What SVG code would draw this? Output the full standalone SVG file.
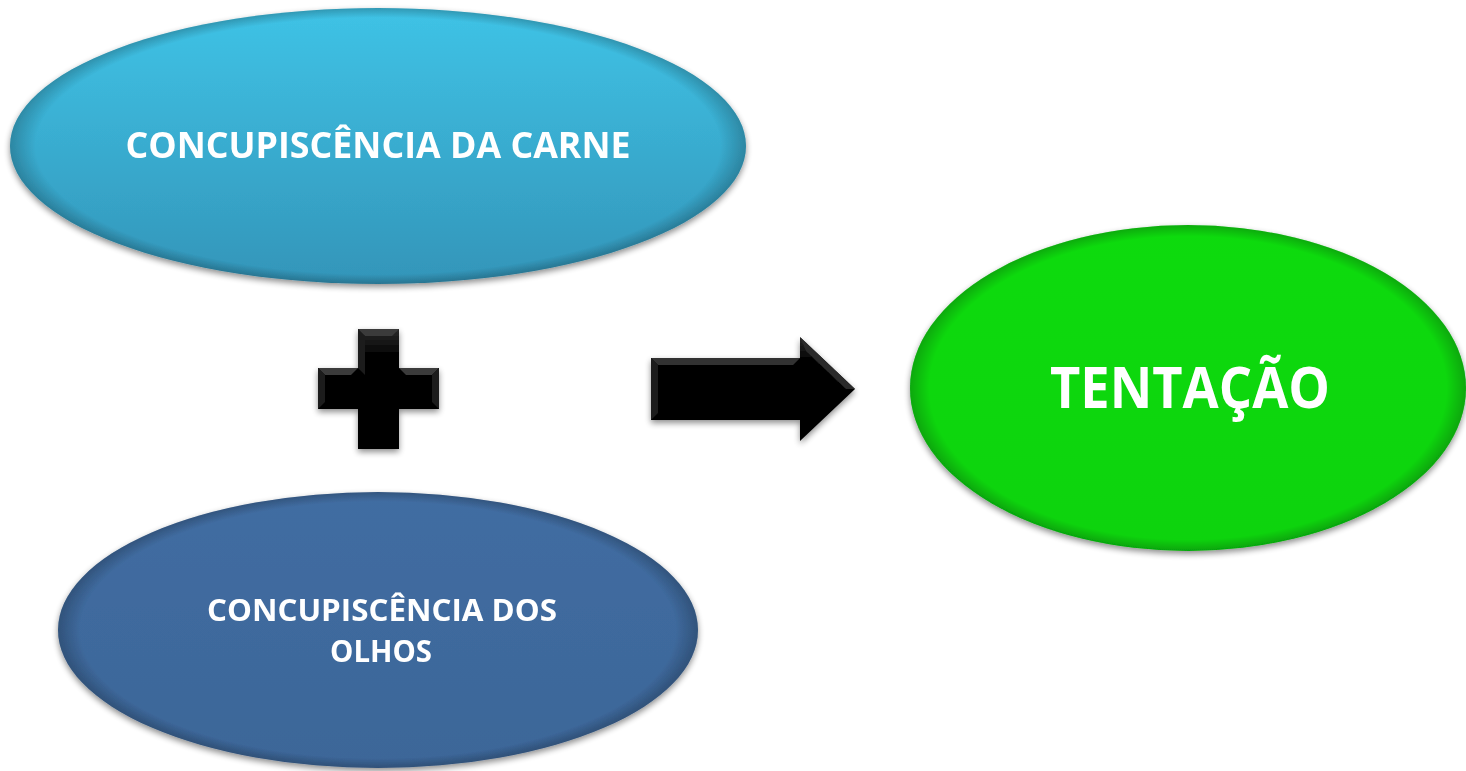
<svg xmlns="http://www.w3.org/2000/svg" width="1466" height="771" viewBox="0 0 1466 771">
<defs>
<style>
.lbl{font-family:"Open Sans","Liberation Sans",sans-serif;font-weight:bold;fill:#ffffff;text-anchor:middle}
</style>
<filter id="sh" x="-10%" y="-10%" width="120%" height="130%">
<feGaussianBlur in="SourceAlpha" stdDeviation="3"/>
<feOffset dx="0" dy="3" result="b"/>
<feComponentTransfer><feFuncA type="linear" slope="0.45"/></feComponentTransfer>
<feMerge><feMergeNode/><feMergeNode in="SourceGraphic"/></feMerge>
</filter>
<linearGradient id="gTop" x1="0" y1="0" x2="0" y2="1">
<stop offset="0" stop-color="#3FC3E6"/>
<stop offset="1" stop-color="#3395B9"/>
</linearGradient>
<linearGradient id="gBot" x1="0" y1="0" x2="0" y2="1">
<stop offset="0" stop-color="#416DA2"/>
<stop offset="1" stop-color="#3C6698"/>
</linearGradient>
<linearGradient id="gGrn" x1="0" y1="0" x2="0" y2="1">
<stop offset="0" stop-color="#0BDB0D"/>
<stop offset="1" stop-color="#08D309"/>
</linearGradient>
<radialGradient id="rim" cx="0.5" cy="0.5" r="0.5">
<stop offset="0.93" stop-color="#000" stop-opacity="0"/>
<stop offset="1" stop-color="#000" stop-opacity="0.22"/>
</radialGradient>
<linearGradient id="blk" x1="0" y1="0" x2="0" y2="1">
<stop offset="0" stop-color="#2a2a2a"/>
<stop offset="0.2" stop-color="#050505"/>
<stop offset="1" stop-color="#000"/>
</linearGradient>
</defs>

<g id="node-carne" filter="url(#sh)">
<ellipse cx="378" cy="146" rx="368" ry="138" fill="url(#gTop)"/>
<ellipse cx="378" cy="146" rx="368" ry="138" fill="url(#rim)"/>
<text class="lbl" x="378" y="158" font-size="36" textLength="505" lengthAdjust="spacingAndGlyphs">CONCUPISCÊNCIA DA CARNE</text>
</g>

<g id="node-olhos" filter="url(#sh)">
<ellipse cx="378" cy="630" rx="320" ry="138" fill="url(#gBot)"/>
<ellipse cx="378" cy="630" rx="320" ry="138" fill="url(#rim)"/>
<text class="lbl" x="382" y="621" font-size="31" textLength="350" lengthAdjust="spacingAndGlyphs">CONCUPISCÊNCIA DOS</text>
<text class="lbl" x="381" y="662" font-size="31" textLength="102" lengthAdjust="spacingAndGlyphs">OLHOS</text>
</g>

<g id="node-tentacao" filter="url(#sh)">
<ellipse cx="1188" cy="388" rx="278" ry="163" fill="url(#gGrn)"/>
<ellipse cx="1188" cy="388" rx="278" ry="163" fill="url(#rim)"/>
<text class="lbl" x="1190" y="408" font-size="58" textLength="280" lengthAdjust="spacingAndGlyphs">TENTAÇÃO</text>
</g>

<g id="connectors" filter="url(#sh)">
<g id="plus">
<path d="M358,329 H399 V368 H439 V409 H399 V449 H358 V409 H318 V368 H358 Z" fill="url(#blk)"/>
<path d="M358,329 H399 L392,336 H365 Z" fill="#3a3a3a"/>
<path d="M318,368 H358 L351,375 H325 Z" fill="#3a3a3a"/>
<path d="M399,368 H439 L432,375 H406 Z" fill="#3a3a3a"/>
<path d="M318,368 V409 L325,402 V375 Z" fill="#1c1c1c"/>
<path d="M358,329 V368 L365,375 V336 Z" fill="#1c1c1c"/>
<path d="M439,368 V409 L432,402 V375 Z" fill="#1a1a1a"/>
</g>
<g id="arrow">
<path d="M651,358 H800 V337 L855,389 L800,441 V420 H651 Z" fill="url(#blk)"/>
<path d="M651,358 H800 L793,365 H658 Z" fill="#333"/>
<path d="M651,358 V420 L658,413 V365 Z" fill="#1c1c1c"/>
<path d="M800,337 L855,389 L846,389 L806,351 Z" fill="#2a2a2a"/>
</g>
</g>
</svg>
